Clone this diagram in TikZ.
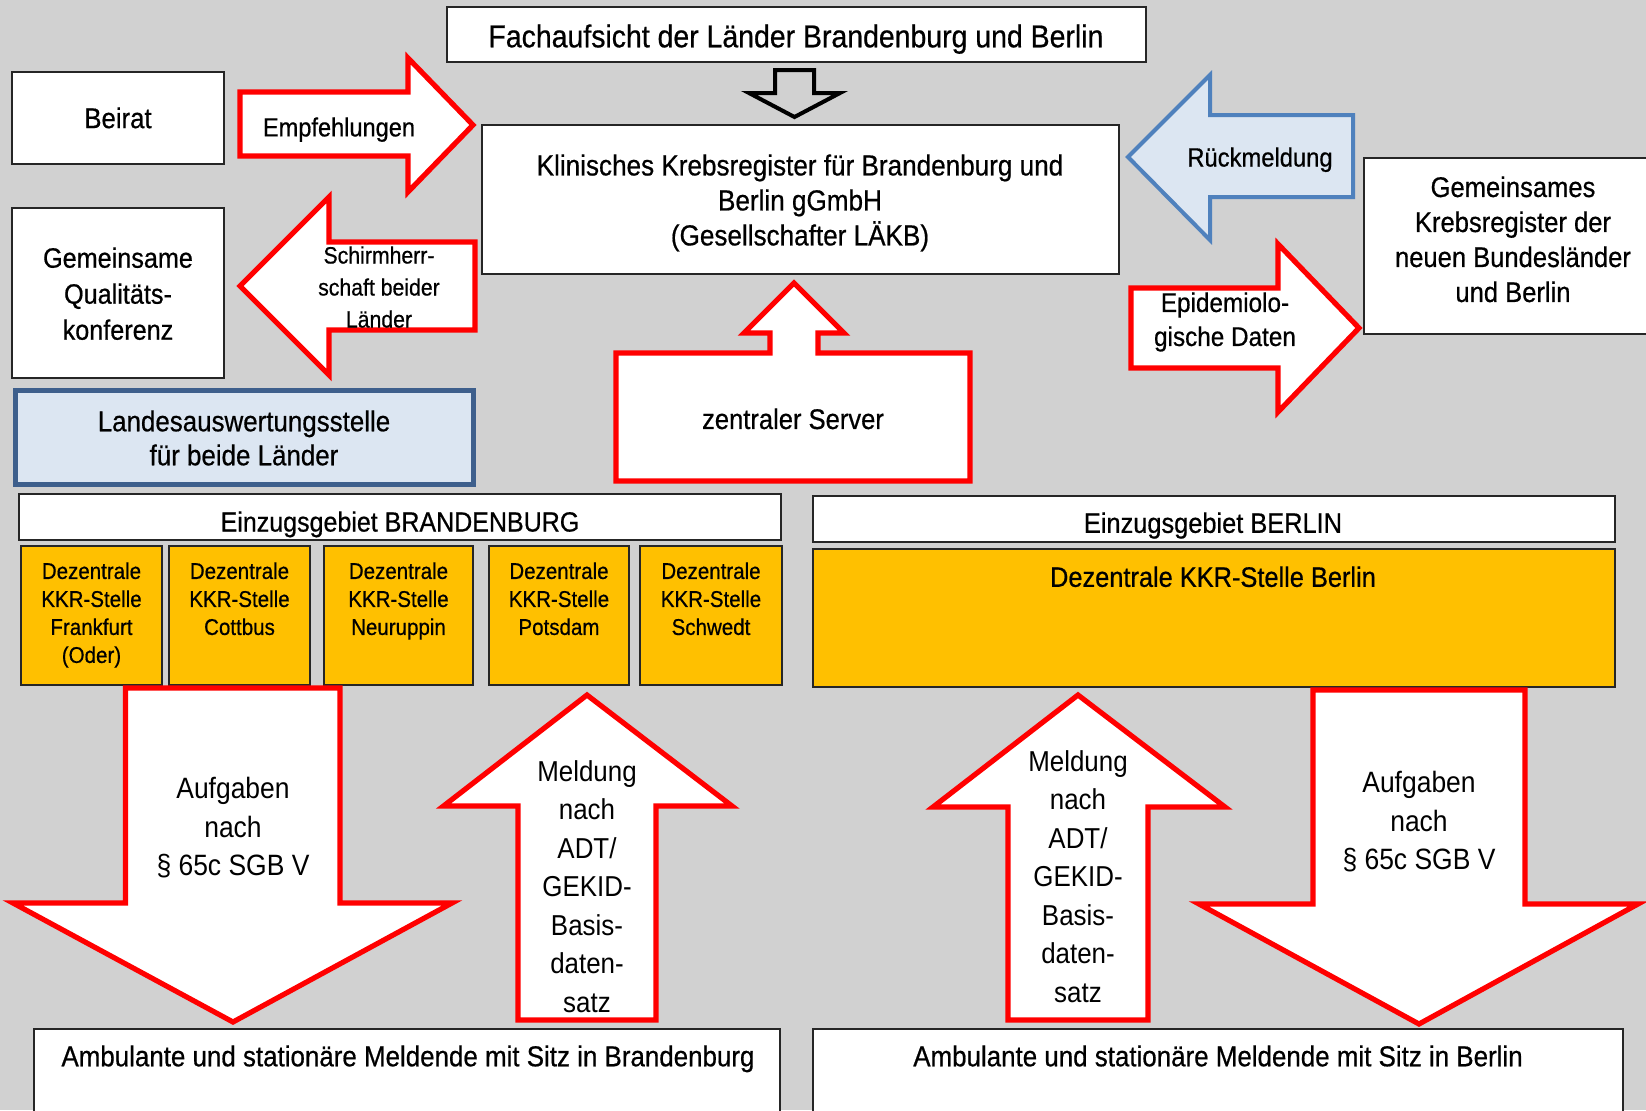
\documentclass[tikz,border=0pt]{standalone}
\usepackage{fontspec}
\setmainfont{Liberation Sans}[FakeStretch=0.90, FakeBold=0.6]
\newfontfamily\thinfont{Liberation Sans}[FakeStretch=0.90]
\definecolor{kbg}{RGB}{209,209,209}
\definecolor{kred}{RGB}{255,0,0}
\definecolor{kblue}{RGB}{79,129,189}
\definecolor{klight}{RGB}{220,230,242}
\definecolor{kdark}{RGB}{62,95,140}
\definecolor{korange}{RGB}{255,192,0}
\tikzset{box/.style = {draw=black!85, line width=0.75pt, fill=white}}
\tikzset{dbox/.style = {draw=black!85, line width=0.75pt, fill=korange}}
\tikzset{redarrow/.style = {draw=kred, line width=2.6pt, fill=white, line join=miter}}
\tikzset{bluearrow/.style = {draw=kblue, line width=2pt, fill=klight, line join=miter}}
\tikzset{lbl/.style = {inner sep=0pt, align=center, anchor=north}}

\begin{document}
\begin{tikzpicture}[x=0.5pt, y=-0.5pt]
      \clip (0, 0) rectangle (1646, 1110);
      \fill [kbg] (0, 0) rectangle (1646, 1110);

      % oben: Fachaufsicht und Register
      \draw [box] (447, 7) rectangle (1146, 62);
      \node [lbl, font=\fontsize{15.8}{18}\selectfont] (fach) at (796, 24) {Fachaufsicht der Länder Brandenburg und Berlin};
      \draw [line width=2pt, line join=miter] (775, 70) -- (814, 70) -- (814, 93) -- (840, 93) -- (794.5, 117) -- (749, 93) -- (775, 93) -- cycle;

      \draw [box] (482, 125) rectangle (1119, 274);
      \node [lbl, font=\fontsize{14.5}{17.5}\selectfont] (kkr) at (800, 154) {Klinisches Krebsregister für Brandenburg und\\Berlin gGmbH\\(Gesellschafter LÄKB)};

      \draw [box] (12, 72) rectangle (224, 164);
      \node [lbl, font=\fontsize{14.3}{17}\selectfont] (beirat) at (118, 107) {Beirat};
      \draw [redarrow] (240, 92) -- (408, 92) -- (408, 58) -- (473, 125) -- (408, 192) -- (408, 156) -- (240, 156) -- cycle;
      \node [lbl, font=\fontsize{13.1}{16}\selectfont] (empf) at (339, 117) {Empfehlungen};

      \draw [box] (12, 208) rectangle (224, 378);
      \node [lbl, font=\fontsize{14}{18}\selectfont] (gqk) at (118, 247) {Gemeinsame\\Qualitäts-\\konferenz};
      \draw [redarrow] (240, 286) -- (329, 197) -- (329, 242) -- (475, 242) -- (475, 330) -- (329, 330) -- (329, 375) -- cycle;
      \node [lbl, font=\fontsize{11.8}{16}\selectfont] (schirm) at (379, 246) {Schirmherr-\\schaft beider\\Länder};

      \draw [bluearrow] (1128, 157) -- (1210, 75) -- (1210, 115) -- (1353, 115) -- (1353, 197) -- (1210, 197) -- (1210, 240) -- cycle;
      \node [lbl, font=\fontsize{13.2}{17}\selectfont] (rueck) at (1260, 147) {Rückmeldung};

      \draw [box] (1364, 158) rectangle (1660, 334);
      \node [lbl, font=\fontsize{14.2}{17.5}\selectfont] (gkr) at (1513, 176) {Gemeinsames\\Krebsregister der\\neuen Bundesländer\\und Berlin};
      \draw [redarrow] (1131, 288) -- (1278, 288) -- (1278, 244) -- (1359, 328) -- (1278, 412) -- (1278, 368) -- (1131, 368) -- cycle;
      \node [lbl, font=\fontsize{13.5}{17}\selectfont] (epi) at (1225, 292) {Epidemiolo-\\gische Daten};

      \draw [line width=2.5pt, draw=kdark, fill=klight] (15, 390) rectangle (473, 484);
      \node [lbl, font=\fontsize{14.4}{17}\selectfont] (landes) at (244, 410) {Landesauswertungsstelle\\für beide Länder};

      \draw [redarrow] (616, 353) -- (770, 353) -- (770, 333) -- (744, 333) -- (794, 283) -- (844, 333) -- (818, 333) -- (818, 353) -- (970, 353) -- (970, 481) -- (616, 481) -- cycle;
      \node [lbl, font=\fontsize{14.2}{17}\selectfont] (server) at (793, 408) {zentraler Server};

      % Einzugsgebiete
      \draw [box] (19, 494) rectangle (781, 540);
      \node [lbl, font=\fontsize{13.9}{17}\selectfont] (ebb) at (400, 511) {Einzugsgebiet BRANDENBURG};
      \foreach \a/\b/\n/\t in {21/162/ffo/{Dezentrale\\KKR-Stelle\\Frankfurt\\(Oder)},
                               169/310/cb/{Dezentrale\\KKR-Stelle\\Cottbus},
                               324/473/nr/{Dezentrale\\KKR-Stelle\\Neuruppin},
                               489/629/pd/{Dezentrale\\KKR-Stelle\\Potsdam},
                               640/782/sw/{Dezentrale\\KKR-Stelle\\Schwedt}} {
        \draw [dbox] (\a, 546) rectangle (\b, 685);
        \node [lbl, font=\fontsize{11.4}{14}\selectfont] (dz\n) at ({(\a + \b) / 2}, 562) {\t};
      }

      \draw [box] (813, 496) rectangle (1615, 542);
      \node [lbl, font=\fontsize{14.1}{17}\selectfont] (eber) at (1213, 512) {Einzugsgebiet BERLIN};
      \draw [dbox] (813, 549) rectangle (1615, 687);
      \node [lbl, font=\fontsize{14.1}{17}\selectfont] (dzber) at (1213, 566) {Dezentrale KKR-Stelle Berlin};

      % Meldende
      \draw [box] (34, 1029) rectangle (780, 1130);
      \node [lbl, font=\fontsize{14.4}{17}\selectfont] (ambbb) at (408, 1045) {Ambulante und stationäre Meldende mit Sitz in Brandenburg};
      \draw [box] (813, 1029) rectangle (1623, 1130);
      \node [lbl, font=\fontsize{14.4}{17}\selectfont] (ambber) at (1218, 1045) {Ambulante und stationäre Meldende mit Sitz in Berlin};

      \draw [redarrow] (125.5, 688) -- (340, 688) -- (340, 903) -- (452, 903) -- (233, 1022) -- (13, 903) -- (125.5, 903) -- cycle;
      \node [lbl, font=\thinfont\fontsize{14.7}{19.2}\selectfont] (aufbb) at (233, 777) {Aufgaben\\nach\\§ 65c SGB V};
      \draw [redarrow] (518, 1020) -- (518, 806) -- (443.5, 806) -- (587, 695) -- (732, 806) -- (656, 806) -- (656, 1020) -- cycle;
      \node [lbl, font=\thinfont\fontsize{14.4}{19.25}\selectfont] (meldbb) at (587, 760) {Meldung\\nach\\ADT/\\GEKID-\\Basis-\\daten-\\satz};

      \draw [redarrow] (1008, 1020) -- (1008, 807) -- (933, 807) -- (1078, 695) -- (1225, 807) -- (1148, 807) -- (1148, 1020) -- cycle;
      \node [lbl, font=\thinfont\fontsize{14.4}{19.25}\selectfont] (meldber) at (1078, 750) {Meldung\\nach\\ADT/\\GEKID-\\Basis-\\daten-\\satz};
      \draw [redarrow] (1313, 690) -- (1525, 690) -- (1525, 904) -- (1638, 904) -- (1419, 1024) -- (1199, 904) -- (1313, 904) -- cycle;
      \node [lbl, font=\thinfont\fontsize{14.7}{19.2}\selectfont] (aufber) at (1419, 771) {Aufgaben\\nach\\§ 65c SGB V};
\end{tikzpicture}
\end{document}
